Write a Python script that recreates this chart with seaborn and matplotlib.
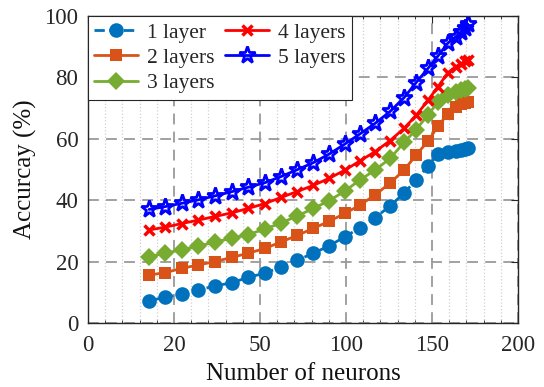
import matplotlib
matplotlib.use("Agg")
import matplotlib.pyplot as plt
from matplotlib.ticker import MultipleLocator
import numpy as np
import pandas as pd
import seaborn as sns

# Network size along the x axis (axis units) and accuracy (%) per depth
neurons = [28.4, 35.8, 43.7, 51.2, 59.1, 67.0, 74.4, 82.3, 89.8, 97.2,
           104.7, 112.1, 119.5, 126.5, 133.5, 140.5, 147.0, 152.6, 158.1,
           162.8, 167.4, 171.2, 173.5, 175.3, 176.7]
acc_1 = [7.2, 8.4, 9.4, 10.7, 12.1, 13.1, 14.9, 16.2, 18.3, 20.4,
         22.7, 25.1, 28.1, 31.0, 34.3, 38.1, 42.3, 46.6, 51.1,
         55.0, 55.8, 56.1, 56.3, 56.6, 56.9]
acc_2 = [15.6, 16.4, 17.8, 18.9, 20.0, 21.4, 22.7, 24.3, 26.4, 28.5,
         30.8, 33.1, 35.7, 38.4, 41.7, 45.6, 49.8, 54.7, 59.2,
         64.1, 68.2, 70.2, 71.2, 71.8, 72.1]
acc_3 = [21.6, 22.7, 23.9, 25.0, 26.4, 27.6, 28.8, 30.6, 32.6, 34.8,
         37.3, 39.8, 43.0, 46.6, 49.8, 53.6, 58.8, 63.0, 67.7,
         72.0, 74.3, 75.3, 75.9, 76.3, 76.6]
acc_4 = [30.3, 31.2, 32.4, 33.5, 34.7, 35.9, 37.3, 38.9, 40.9, 42.8,
         44.8, 47.1, 49.8, 52.8, 55.8, 59.4, 63.4, 67.6, 72.5,
         77.0, 81.5, 83.5, 84.5, 85.2, 85.7]
acc_5 = [37.0, 37.9, 39.0, 40.1, 41.4, 42.8, 44.2, 45.7, 47.7, 49.9,
         52.2, 55.0, 58.3, 61.6, 65.0, 68.9, 73.4, 78.3, 82.9,
         87.0, 91.2, 93.3, 94.9, 96.2, 97.3]
series_labels = ["1 layer", "2 layers", "3 layers", "4 layers", "5 layers"]

x_tick_pos = [0, 40, 80, 120, 160, 200]
x_tick_labels = ["0", "20", "50", "100", "150", "200"]
y_ticks = [0, 20, 40, 60, 80, 100]

df = pd.DataFrame({
    "neurons": neurons * 5,
    "acc": acc_1 + acc_2 + acc_3 + acc_4 + acc_5,
    "layers": np.repeat(series_labels, len(neurons)),
})

sns.set_style("white")
plt.rcParams["font.family"] = ["Liberation Serif", "DejaVu Serif"]

fig = plt.figure(figsize=(5.44, 3.87), dpi=100)
ax = fig.add_axes([0.1618, 0.1654, 0.7904, 0.7933])

styles = {
    "1 layer":  dict(color="#0072BD", marker="o", ls="--", ms=10.5, mew=0, mfc="#0072BD"),
    "2 layers": dict(color="#D95319", marker="s", ls="-", ms=8, mew=0, mfc="#D95319"),
    "3 layers": dict(color="#77AC30", marker="D", ls="-", ms=9, mew=0, mfc="#77AC30"),
    "4 layers": dict(color="#FF0000", marker="x", ls="-", ms=7, mew=2.5, mfc="#FF0000"),
    "5 layers": dict(color="#0000FF", marker="*", ls="-", ms=12.5, mew=2.0, mfc="none"),
}

for name in series_labels:
    st = styles[name]
    sub = df[df["layers"] == name]
    sns.lineplot(data=sub, x="neurons", y="acc", ax=ax, color=st["color"],
                 marker=st["marker"], linestyle=st["ls"], linewidth=2,
                 markersize=st["ms"], markeredgewidth=st["mew"],
                 markerfacecolor=st["mfc"], markeredgecolor=st["color"],
                 label=name, estimator=None, sort=False)

ax.set_xlim(0, 200)
ax.set_ylim(0, 100)
ax.set_xticks(x_tick_pos)
ax.set_xticklabels(x_tick_labels)
ax.set_yticks(y_ticks)
ax.xaxis.set_minor_locator(MultipleLocator(8))

ax.grid(True, which="major", axis="both", color="#9a9a9a", ls=(0, (6, 4)), lw=1.3)
ax.grid(True, which="minor", axis="x", color="#d0d0d0", ls=":", lw=0.9)
ax.set_axisbelow(True)

for sp in ax.spines.values():
    sp.set_color("#262626")
    sp.set_linewidth(1.0)
ax.tick_params(axis="both", which="major", direction="in", length=5, width=0.8,
               top=True, right=True, labelsize=16.5, colors="#262626",
               labelcolor="#262626")
ax.tick_params(axis="x", which="major", pad=9)
ax.tick_params(axis="y", which="major", pad=7)
ax.tick_params(axis="x", which="minor", direction="in", length=2.5, width=0.6,
               top=True, bottom=True)

ax.set_xlabel("Number of neurons", fontsize=18, color="#111111", labelpad=5)
ax.set_ylabel("Accurcay (%)", fontsize=18, color="#111111", labelpad=5)

leg = ax.legend(loc="upper left", ncol=2, fontsize=15.5, frameon=True,
                fancybox=False, edgecolor="#262626", framealpha=1,
                handlelength=2.0, handletextpad=0.45, columnspacing=0.5,
                labelspacing=0.25, borderpad=0.3, borderaxespad=0.0)
leg.get_frame().set_linewidth(0.8)

fig.savefig("out.png", dpi=100)
